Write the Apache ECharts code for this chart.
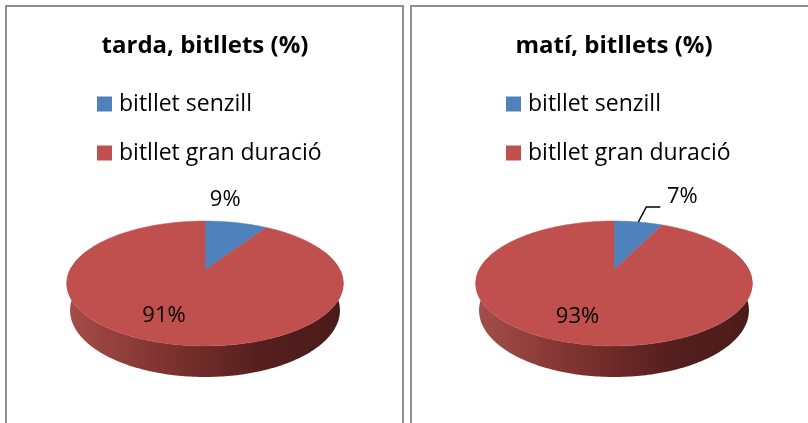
<!DOCTYPE html>
<html>
<head>
<meta charset="utf-8">
<script src="https://cdn.jsdelivr.net/npm/echarts@6/dist/echarts.min.js"></script>
<style>
html,body{margin:0;padding:0;background:#fff;}
#chart{width:808px;height:423px;}
</style>
</head>
<body>
<div id="chart"></div>
<script>
// ---- data ----
const categories = ['bitllet senzill', 'bitllet gran duració'];
const panelTitles = ['tarda, bitllets (%)', 'matí, bitllets (%)'];
const senzill = [9, 7];        // % per panel (tarda, matí)
const granDuracio = [91, 93];  // % per panel (tarda, matí)
const seriesValues = [senzill, granDuracio];
const colors = ['#4f81bd', '#c0504d'];

// ---- layout / style ----
const FONT = '"Open Sans"';
const panelCenters = [205, 614];
const pieCY = 270;
// perspective projection parameters (Excel-like 3D pie)
const S = 0.441, C = 0.897, F = 561, D0 = 4.155, H = 0.222;
// outside-label placement per panel (relative to rim point at mid-angle)
const outsideLabel = [
  { dx: -11, dy: -23, leader: false },
  { dx: 44, dy: -25, leader: true, elbow: [8, -15], end: [22, -15] }
];
const insideOffset = [-20, 14];

function proj(cx, cy, r, deg, h) {
  const t = deg * Math.PI / 180;
  const x = r * Math.sin(t), b = r * Math.cos(t);
  const D = D0 + b * C + h * S;
  return [cx + F * x / D, cy + F * (-b * S + h * C) / D];
}

function renderItem(params, api) {
  const panel = api.value(0);
  const si = params.seriesIndex;
  const vals = seriesValues.map(a => a[panel]);
  const total = vals.reduce((s, v) => s + v, 0);
  const before = vals.slice(0, si).reduce((s, v) => s + v, 0);
  const a0 = before / total * 360;
  const a1 = (before + vals[si]) / total * 360;
  const cx = panelCenters[panel], cy = pieCY;
  const children = [];

  // side wall (front part only)
  const w0 = Math.max(a0, 70), w1 = Math.min(a1, 290);
  if (w1 > w0) {
    const top = [], bot = [];
    for (let d = w0; d <= w1 + 1e-6; d += 1) { top.push(proj(cx, cy, 1, d, 0)); bot.push(proj(cx, cy, 1, d, H)); }
    top.push(proj(cx, cy, 1, w1, 0)); bot.push(proj(cx, cy, 1, w1, H));
    const pts = top.concat(bot.reverse());
    children.push({
      type: 'polygon', z2: 1,
      shape: { points: pts },
      style: {
        fill: {
          type: 'linear', x: cx - 138, y: 0, x2: cx + 138, y2: 0, global: true,
          colorStops: [
            { offset: 0, color: '#a54e4b' },
            { offset: 0.35, color: '#7f3330' },
            { offset: 0.7, color: '#551f1e' },
            { offset: 1, color: '#4a1b1a' }
          ]
        },
        stroke: null
      }
    });
  }

  // top face
  const tp = [proj(cx, cy, 0, 0, 0)];
  for (let d = a0; d <= a1 + 1e-6; d += 1) tp.push(proj(cx, cy, 1, d, 0));
  tp.push(proj(cx, cy, 1, a1, 0));
  children.push({
    type: 'polygon', z2: 10,
    shape: { points: tp },
    style: { fill: colors[si], stroke: colors[si], lineWidth: 0.5 }
  });

  // label
  const mid = (a0 + a1) / 2;
  const txt = Math.round(vals[si] / total * 100) + '%';
  const labelStyle = { text: txt, fill: '#000', fontFamily: FONT, fontSize: 22, align: 'center', verticalAlign: 'middle' };
  if (vals[si] / total < 0.2) {
    const p = proj(cx, cy, 1, mid, 0);
    const cfg = outsideLabel[panel];
    children.push({ type: 'text', z2: 20, x: p[0] + cfg.dx, y: p[1] + cfg.dy, style: labelStyle });
    if (cfg.leader) {
      children.push({
        type: 'polyline', z2: 20,
        shape: { points: [p, [p[0] + cfg.elbow[0], p[1] + cfg.elbow[1]], [p[0] + cfg.end[0], p[1] + cfg.end[1]]] },
        style: { stroke: '#000', lineWidth: 1.5, fill: null }
      });
    }
  } else {
    const p = proj(cx, cy, 0.5, mid, 0);
    children.push({ type: 'text', z2: 20, x: p[0] + insideOffset[0], y: p[1] + insideOffset[1], style: labelStyle });
  }
  return { type: 'group', children: children };
}

const chart = echarts.init(document.getElementById('chart'), null, { renderer: 'canvas' });
const option = {
  animation: false,
  backgroundColor: '#fff',
  title: panelTitles.map((t, i) => ({
    text: t, left: panelCenters[i], top: 32, textAlign: 'center', padding: 0,
    textStyle: { fontFamily: FONT, fontSize: 24, lineHeight: 28, fontWeight: 'bold', color: '#000' }
  })),
  legend: [97, 506].map(x => ({
    data: categories, orient: 'vertical', left: x, top: 92, itemGap: 25, padding: 0,
    icon: 'rect', itemWidth: 15, itemHeight: 15, selectedMode: false,
    textStyle: { fontFamily: FONT, fontSize: 23, lineHeight: 24, color: '#000', padding: [0, 0, 0, 2] }
  })),
  graphic: [
    { type: 'rect', shape: { x: 6, y: 6, width: 397, height: 440 }, style: { fill: null, stroke: '#8e8e8e', lineWidth: 2 } },
    { type: 'rect', shape: { x: 411, y: 6, width: 420, height: 440 }, style: { fill: null, stroke: '#8e8e8e', lineWidth: 2 } }
  ],
  series: categories.map((name, si) => ({
    type: 'custom', name: name, coordinateSystem: 'none',
    itemStyle: { color: colors[si] },
    renderItem: renderItem,
    data: seriesValues[si].map((v, p) => [p, v])
  }))
};
chart.setOption(option);
</script>
</body>
</html>
